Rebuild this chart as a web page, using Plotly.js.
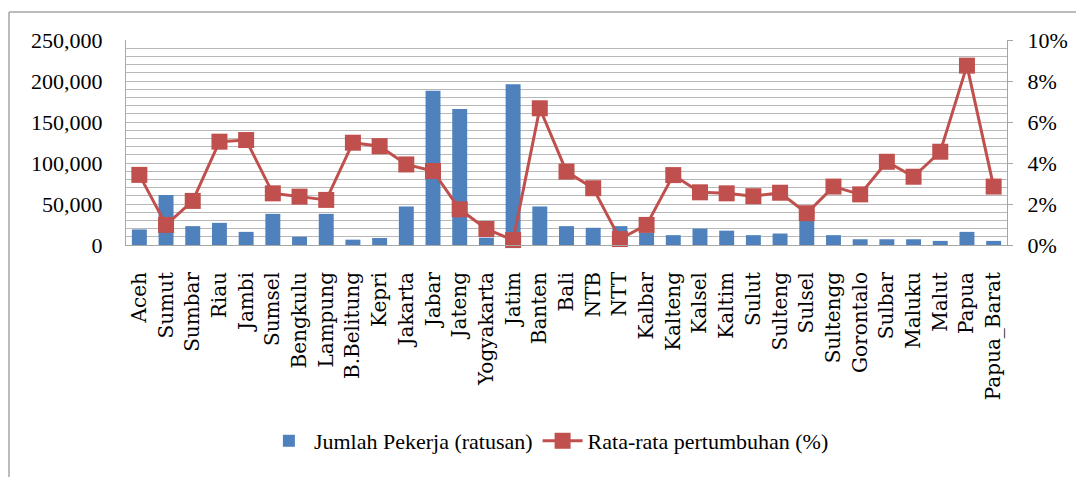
<!DOCTYPE html>
<html>
<head>
<meta charset="utf-8">
<script src="https://cdn.plot.ly/plotly-3.0.1.min.js"></script>
<style>html,body{margin:0;padding:0;background:#fff;}#chart{width:1076px;height:477px;}</style>
</head>
<body>
<div id="chart"></div>
<script>
const provinces = ["Aceh","Sumut","Sumbar","Riau","Jambi","Sumsel","Bengkulu","Lampung","B.Belitung","Kepri","Jakarta","Jabar","Jateng","Yogyakarta","Jatim","Banten","Bali","NTB","NTT","Kalbar","Kalteng","Kalsel","Kaltim","Sulut","Sulteng","Sulsel","Sultengg","Gorontalo","Sulbar","Maluku","Malut","Papua","Papua_Barat"];
const jumlahPekerja = [19000,61000,23000,27000,16000,38000,10000,38000,6500,8500,47000,188000,166000,9000,196000,47000,23000,21000,23000,15000,12000,20000,17500,12000,14000,30000,12000,7000,7000,7000,5000,16000,5000];
const rataPertumbuhan = [3.42,0.98,2.15,5.04,5.12,2.52,2.36,2.2,4.99,4.82,3.93,3.61,1.74,0.78,0.24,6.67,3.58,2.77,0.29,0.98,3.41,2.57,2.52,2.38,2.55,1.55,2.85,2.47,4.06,3.33,4.55,8.75,2.85];
const leftTicks = [0,50000,100000,150000,200000,250000];
const leftTickText = ["0","50,000","100,000","150,000","200,000","250,000"];
const rightTicks = [0,2,4,6,8,10];
const rightTickText = ["0%","2%","4%","6%","8%","10%"];

const traces = [
  {type:"bar", x:provinces, y:jumlahPekerja, name:"Jumlah Pekerja (ratusan)",
   marker:{color:"#4F81BD"}, yaxis:"y"},
  {type:"scatter", mode:"lines+markers", x:provinces, y:rataPertumbuhan, name:"Rata-rata pertumbuhan (%)",
   line:{color:"#C0504D", width:3}, marker:{symbol:"square", size:16, color:"#C0504D"}, yaxis:"y2", cliponaxis:false}
];

const layout = {
  width:1076, height:477,
  margin:{l:126, r:69, t:40, b:232, autoexpand:false},
  paper_bgcolor:"#fff", plot_bgcolor:"#fff",
  bargap:0.44,
  showlegend:true,
  legend:{orientation:"h", x:0.48, xanchor:"center", y:-0.956, yanchor:"middle",
    font:{family:"Liberation Serif", size:22, color:"#000"}, itemwidth:40, traceorder:"normal"},
  xaxis:{type:"category", range:[-0.5, provinces.length-0.5], tickangle:-90, showgrid:false, showline:true, linecolor:"#A6A6A6", linewidth:1, automargin:false,
    ticks:"", ticklabelstandoff:18, tickfont:{family:"DejaVu Serif", size:20, color:"#000"}},
  yaxis:{range:[0,250000], tickvals:leftTicks, ticktext:leftTickText, showline:true, linecolor:"#A6A6A6", automargin:false,
    showgrid:true, gridcolor:"#B8B8B8", gridwidth:1, zeroline:false,
    minor:{dtick:10000, tick0:0, showgrid:true, gridcolor:"#B8B8B8", gridwidth:1},
    ticks:"", ticklabelstandoff:18, tickfont:{family:"Liberation Serif", size:22, color:"#000"}},
  yaxis2:{range:[0,10], overlaying:"y", side:"right", tickvals:rightTicks, ticktext:rightTickText, automargin:false,
    showgrid:false, zeroline:false, showline:true, linecolor:"#A6A6A6", ticks:"outside", ticklen:5, tickcolor:"#A6A6A6",
    ticklabelstandoff:10, tickfont:{family:"Liberation Serif", size:22, color:"#000"}},
  shapes:[
    {type:"line", xref:"paper", yref:"paper", x0:-0.1328, x1:1.2, y0:1.1366, y1:1.1366, line:{color:"#A6A6A6", width:1.5}},
    {type:"line", xref:"paper", yref:"paper", x0:-0.1328, x1:-0.1328, y0:1.1366, y1:-1.3, line:{color:"#A6A6A6", width:1.5}}
  ]
};
Plotly.newPlot("chart", traces, layout, {displayModeBar:false, staticPlot:true});
</script>
</body>
</html>
